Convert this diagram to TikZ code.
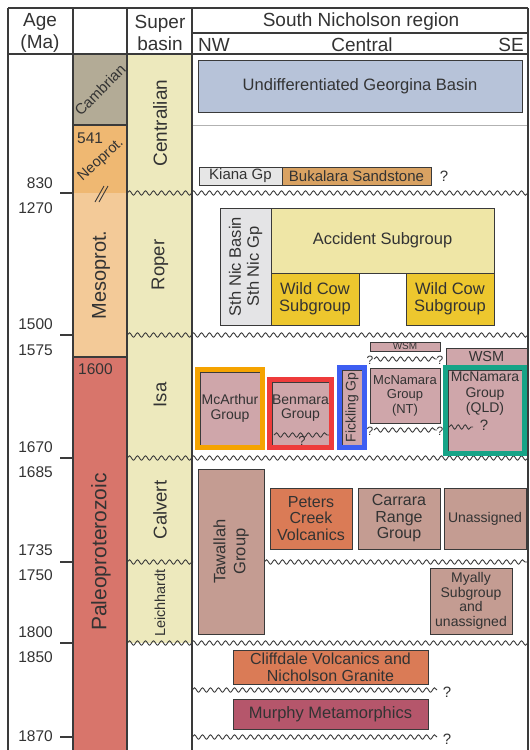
\documentclass[tikz,border=0pt]{standalone}
\usepackage{fontspec}
\setmainfont{Liberation Sans}
\usetikzlibrary{decorations.pathmorphing,fit}

\definecolor{linec}{HTML}{3A3A3A}
\definecolor{textc}{HTML}{333333}
\definecolor{cambrian}{HTML}{B3AB96}
\definecolor{neoprot}{HTML}{EFB872}
\definecolor{mesoprot}{HTML}{F3CA98}
\definecolor{paleoprot}{HTML}{D8756B}
\definecolor{superbasin}{HTML}{EDE9BD}
\definecolor{georgina}{HTML}{B7C3D9}
\definecolor{kiana}{HTML}{E6E6E6}
\definecolor{bukalara}{HTML}{D9A262}
\definecolor{sthnic}{HTML}{E4E4E6}
\definecolor{accident}{HTML}{EFE6A6}
\definecolor{wildcow}{HTML}{EDC72E}
\definecolor{isapink}{HTML}{CFA6AA}
\definecolor{calvbrown}{HTML}{C49C92}
\definecolor{volcanic}{HTML}{DA7B56}
\definecolor{murphy}{HTML}{B5566B}
\definecolor{frameorange}{HTML}{F5A300}
\definecolor{framered}{HTML}{EE3B3B}
\definecolor{frameblue}{HTML}{3D5EF2}
\definecolor{framegreen}{HTML}{16A487}

\newcommand{\setfs}[2]{\fontsize{#1}{#2}\selectfont}

\tikzset{
  grid/.style={draw=linec, line width=1.1pt},
  tick/.style={draw=linec, line width=1.1pt},
  unit/.style={draw=linec, line width=0.9pt, inner sep=0pt, outer sep=0pt,
    anchor=north west, align=center, text=textc, font=\setfs{16}{16.5}},
  boxtext/.style={inner sep=0pt, align=center, text=textc},
  vlabel/.style={boxtext, rotate=90},
  groupframe/.style={draw=#1, line width=4.5pt, inner sep=2.3pt},
  unconf/.style={draw=linec, line width=0.9pt, decorate,
    decoration={snake, segment length=8pt, amplitude=2.2pt}},
  agelabel/.style={anchor=east, inner sep=0pt, text=textc, font=\setfs{15.5}{15.5}},
  hdr/.style={inner sep=0pt, align=center, text=textc, font=\setfs{19}{22.5}},
  query/.style={inner sep=0pt, text=textc, font=\setfs{15}{15}},
}

\begin{document}
\begin{tikzpicture}[x=1pt, y=-1pt]
  \useasboundingbox (0,0) rectangle (530,750);
  \fill[white] (0,0) rectangle (530,750);

  % period and super basin columns
  \fill[cambrian] (73,54) rectangle (127,125);
  \fill[neoprot] (73,125) rectangle (127,193);
  \fill[mesoprot] (73,193) rectangle (127,357);
  \fill[paleoprot] (73,357) rectangle (127,750);
  \draw[grid] (73,125) -- (127,125);
  \draw[grid] (73,357) -- (127,357);
  \draw[linec, line width=0.9pt] (95,202) -- (104,186) (99,202) -- (108,186);
  \fill[superbasin] (127,54) rectangle (192,643);
  \draw[gray!60, line width=0.8pt] (192,125) -- (528,125);

  \node[boxtext, rotate=45, font=\setfs{15}{15}] (cambriantext) at (100,90) {Cambrian};
  \node[boxtext, rotate=42, font=\setfs{14.5}{14.5}] (neoprottext) at (101,160) {Neoprot.};
  \node[vlabel, font=\setfs{20}{20}] (mesoprottext) at (101,275) {Mesoprot.};
  \node[vlabel, font=\setfs{21}{21}] (paleoprottext) at (101,552) {Paleoproterozoic};
  \node[boxtext, anchor=north west, font=\setfs{15.5}{15.5}] (base541) at (77,133) {541};
  \node[boxtext, anchor=north west, font=\setfs{15.5}{15.5}] (base1600) at (78,363) {1600};

  \node[vlabel, font=\setfs{19}{19}] (centralian) at (160,123) {Centralian};
  \node[vlabel, font=\setfs{18.5}{18.5}] (roper) at (160,265) {Roper};
  \node[vlabel, font=\setfs{18.5}{18.5}] (isa) at (160,395) {Isa};
  \node[vlabel, font=\setfs{18.5}{18.5}] (calvert) at (160,510) {Calvert};
  \node[vlabel, font=\setfs{14.5}{14.5}] (leichhardt) at (160,603) {Leichhardt};

  % unconformities
  \draw[unconf] (127,193) -- (528,193);
  \draw[unconf] (127,335) -- (528,335);
  \draw[unconf] (127,458) -- (528,458);
  \draw[unconf] (127,562) -- (193,562);
  \draw[unconf] (264,562) -- (528,562);
  \draw[unconf] (127,643) -- (528,643);
  \draw[unconf] (192,690) -- (437,690);
  \draw[unconf] (192,737) -- (437,737);
  \draw[unconf] (374,359) -- (437,359);
  \draw[unconf] (374,430) -- (437,430);

  % Centralian
  \node[unit, fill=georgina, minimum width=324pt, minimum height=52pt, font=\setfs{16.5}{16.5}] (georgina) at (198,60) {Undifferentiated Georgina Basin};
  \node[unit, fill=kiana, minimum width=83pt, minimum height=18pt, font=\setfs{15}{15}] (kiana) at (199,167) {Kiana Gp};
  \node[unit, fill=bukalara, minimum width=149pt, minimum height=18pt, font=\setfs{15}{15}] (bukalara) at (282,167) {Bukalara Sandstone};
  \node[query] (bukalaraq) at (444,176) {?};

  % Roper
  \node[unit, fill=sthnic, minimum width=51pt, minimum height=117pt] (sthnic) at (220,208) {};
  \node[vlabel, font=\setfs{16.5}{18}] (sthnictext) at (sthnic.center) {Sth Nic Basin\\Sth Nic Gp};
  \node[unit, fill=accident, minimum width=223pt, minimum height=65pt, font=\setfs{16.5}{16.5}] (accident) at (271,208) {Accident Subgroup};
  \node[unit, fill=wildcow, minimum width=88pt, minimum height=52pt, font=\setfs{16.5}{17}] (wildcowa) at (271,273) {Wild Cow\\Subgroup};
  \node[unit, fill=wildcow, minimum width=88pt, minimum height=52pt, font=\setfs{16.5}{17}] (wildcowb) at (406,273) {Wild Cow\\Subgroup};

  % Isa
  \node[unit, fill=isapink, minimum width=70pt, minimum height=9pt, font=\setfs{10}{10}] (wsmnt) at (370,342) {WSM};
  \node[query, font=\setfs{12}{12}] (wsmntqa) at (370,360) {?};
  \node[query, font=\setfs{12}{12}] (wsmntqb) at (440,360) {?};
  \node[unit, fill=isapink, minimum width=81pt, minimum height=17pt, font=\setfs{14.5}{14.5}] (wsmqld) at (446,348) {WSM};

  \node[unit, fill=isapink, minimum width=60pt, minimum height=73pt, font=\setfs{14}{15}] (mcarthur) at (200,372) {McArthur\\Group};
  \node[groupframe=frameorange, fit=(mcarthur)] (mcarthurframe) {};

  \node[unit, fill=isapink, minimum width=57pt, minimum height=63pt] (benmara) at (272,382) {};
  \node[boxtext, font=\setfs{14}{14.5}] (benmaratext) at (300.5,408) {Benmara\\Group};
  \draw[unconf] (274,435) -- (330,435);
  \node[query, font=\setfs{13}{13}] (benmaraq) at (302,441) {?};
  \node[groupframe=framered, fit=(benmara)] (benmaraframe) {};

  \node[unit, fill=isapink, minimum width=20pt, minimum height=75pt] (fickling) at (342,370) {};
  \node[vlabel, font=\setfs{14}{14}] (ficklingtext) at (fickling.center) {Fickling Gp};
  \node[groupframe=frameblue, fit=(fickling)] (ficklingframe) {};

  \node[unit, fill=isapink, minimum width=70pt, minimum height=55pt, font=\setfs{13}{14.5}] (mcnamarant) at (370,368) {McNamara\\Group\\(NT)};
  \node[query, font=\setfs{12}{12}] (mcnamarantqa) at (370,431) {?};
  \node[query, font=\setfs{12}{12}] (mcnamarantqb) at (440,431) {?};

  \node[unit, fill=isapink, minimum width=74pt, minimum height=81pt] (mcnamaraqld) at (448,370) {};
  \node[boxtext, font=\setfs{14}{15.5}] (mcnamaraqldtext) at (485,394) {McNamara\\Group\\(QLD)};
  \draw[unconf, decoration={segment length=7pt}] (449,427) -- (473,427);
  \node[query] (mcnamaraqldq) at (484,425) {?};
  \node[groupframe=framegreen, fit=(mcnamaraqld)] (mcnamaraqldframe) {};

  % Calvert and Leichhardt
  \node[unit, fill=calvbrown, minimum width=66pt, minimum height=165pt] (tawallah) at (198,469) {};
  \node[vlabel, font=\setfs{16.5}{20}] (tawallahtext) at (tawallah.center) {Tawallah\\Group};
  \node[unit, fill=volcanic, minimum width=82pt, minimum height=61pt] (peters) at (270,488) {Peters\\Creek\\Volcanics};
  \node[unit, fill=calvbrown, minimum width=82pt, minimum height=61pt] (carrara) at (358,488) {Carrara\\Range\\Group};
  \node[unit, fill=calvbrown, minimum width=82pt, minimum height=61pt, font=\setfs{14}{14}] (unassigned) at (444,488) {Unassigned};
  \node[unit, fill=calvbrown, minimum width=82pt, minimum height=66pt, font=\setfs{14}{14.7}] (myally) at (430,568) {Myally\\Subgroup\\and\\unassigned};

  % older units
  \node[unit, fill=volcanic, minimum width=195pt, minimum height=34pt, font=\setfs{16}{17}] (cliffdale) at (233,650) {Cliffdale Volcanics and\\Nicholson Granite};
  \node[query] (cliffdaleq) at (447,692) {?};
  \node[unit, fill=murphy, minimum width=195pt, minimum height=30pt, font=\setfs{16.5}{16.5}] (murphy) at (233,699) {Murphy Metamorphics};
  \node[query] (murphyq) at (447,739) {?};

  % table frame
  \draw[grid] (8,8) -- (528,8);
  \draw[grid] (8,54) -- (528,54);
  \draw[grid] (192,33) -- (528,33);
  \foreach \x in {8,73,127,192,528}
    \draw[grid] (\x,8) -- (\x,750);

  % headers
  \node[hdr] (agehead) at (40,33) {Age\\(Ma)};
  \node[hdr] (superhead) at (160,33) {Super\\basin};
  \node[hdr] (regionhead) at (361,22) {South Nicholson region};
  \node[hdr, anchor=west] (nwhead) at (198,44.5) {NW};
  \node[hdr] (centralhead) at (362,44.5) {Central};
  \node[hdr, anchor=east] (sehead) at (524,44.5) {SE};

  % age axis
  \foreach \y in {193,335,458,562,643,737}
    \draw[tick] (60,\y) -- (73,\y);
  \foreach \age/\y in {830/183,1270/208,1500/324,1575/350,1670/447,1685/472,1735/550,1750/575,1800/632,1850/657,1870/736}
    \node[agelabel] (age\age) at (53,\y) {\age};
\end{tikzpicture}
\end{document}
